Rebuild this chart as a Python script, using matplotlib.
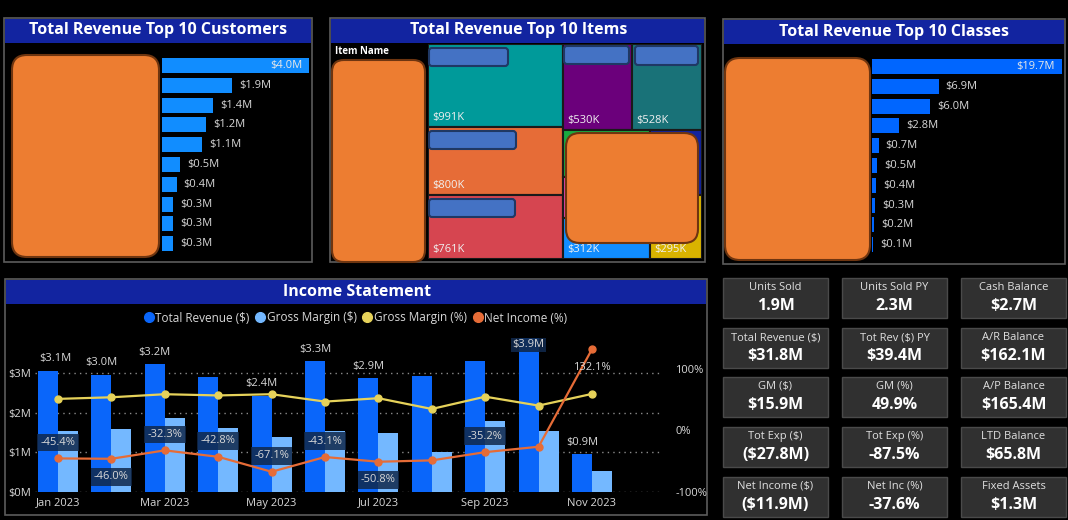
import matplotlib
matplotlib.use('Agg')
import matplotlib.pyplot as plt
from matplotlib.patches import Rectangle, FancyBboxPatch
from matplotlib.lines import Line2D

W, H = 1068, 520
plt.rcParams['font.family'] = ['Open Sans', 'DejaVu Sans']

# ---------------- data ----------------
customer_revenue = [4.0, 1.9, 1.4, 1.2, 1.1, 0.5, 0.4, 0.3, 0.3, 0.3]      # $M
class_revenue = [19.7, 6.9, 6.0, 2.8, 0.7, 0.5, 0.4, 0.3, 0.2, 0.1]         # $M
item_revenue = [991, 800, 761, 530, 528, 358, 318, 312, 300, 295]           # $K
item_colors = ['#009A9A', '#E66C37', '#D64550', '#6B007B', '#197278',
               '#1AAB40', '#E044A7', '#118DFF', '#12239E', '#D9B300']

months = ['Jan 2023', 'Feb 2023', 'Mar 2023', 'Apr 2023', 'May 2023', 'Jun 2023',
          'Jul 2023', 'Aug 2023', 'Sep 2023', 'Oct 2023', 'Nov 2023']
total_revenue = [3.07, 2.97, 3.24, 2.92, 2.44, 3.32, 2.88, 2.94, 3.32, 3.90, 0.95]   # $M
gross_margin = [1.55, 1.59, 1.87, 1.61, 1.40, 1.55, 1.49, 1.00, 1.80, 1.55, 0.54]    # $M
gross_margin_pct = [51.4, 54.0, 59.0, 57.0, 59.0, 47.0, 52.5, 35.0, 55.0, 40.5, 59.5]
net_income_pct = [-45.4, -46.0, -32.3, -42.8, -67.1, -43.1, -50.8, -48.6, -35.2, -26.4, 132.1]
revenue_label_shown = [True, True, True, False, True, True, True, False, False, True, True]
ni_label_shown = [True, True, True, True, True, True, True, False, True, False, True]

kpi_labels = [["Units Sold", "Units Sold PY", "Cash Balance"],
              ["Total Revenue ($)", "Tot Rev ($) PY", "A/R Balance"],
              ["GM ($)", "GM (%)", "A/P Balance"],
              ["Tot Exp ($)", "Tot Exp (%)", "LTD Balance"],
              ["Net Income ($)", "Net Inc (%)", "Fixed Assets"]]
kpi_values = [["1.9M", "2.3M", "$2.7M"],
              ["$31.8M", "$39.4M", "$162.1M"],
              ["$15.9M", "49.9%", "$165.4M"],
              ["($27.8M)", "-87.5%", "$65.8M"],
              ["($11.9M)", "-37.6%", "$1.3M"]]

# ---------------- styling ----------------
BG = 'black'
TITLE_BAR = '#1224A0'
BORDER = '#5C5C5C'
TXT = '#D8D8D8'
ORANGE = '#ED7D31'
ORANGE_EDGE = '#6E3510'
TR_COLOR = '#0A66FA'
GM_COLOR = '#74B8FF'
GMP_COLOR = '#E6D25A'
NI_COLOR = '#E66C37'
LABEL_BOX = '#10284A'

fig = plt.figure(figsize=(W / 100, H / 100), dpi=100, facecolor=BG)


def px_axes(x0, y0, x1, y1, z=1):
    ax = fig.add_axes([x0 / W, 1 - y1 / H, (x1 - x0) / W, (y1 - y0) / H], zorder=z)
    ax.set_facecolor('none')
    return ax


# background layer (pixel coordinates)
bg = px_axes(0, 0, W, H, z=0)
bg.set_xlim(0, W)
bg.set_ylim(H, 0)
bg.axis('off')


def panel(x0, y0, x1, y1, title, tb_bottom, tx, ty):
    bg.add_patch(Rectangle((x0, y0), x1 - x0, y1 - y0, fc=BG, ec=BORDER, lw=1.2))
    bg.add_patch(Rectangle((x0 + 1, y0 + 1), x1 - x0 - 2, tb_bottom - y0 - 1, fc=TITLE_BAR, ec='none'))
    bg.text(tx, ty, title, color='white', fontsize=11.5, fontweight='bold', ha='center', va='center')


panel(4, 18, 312, 262, 'Total Revenue Top 10 Customers', 43, 158, 30.5)
panel(330, 18, 705, 262, 'Total Revenue Top 10 Items', 43, 519, 30.5)
panel(723, 19, 1065, 264, 'Total Revenue Top 10 Classes', 44, 894, 31.5)
panel(5, 279, 707, 515, 'Income Statement', 304, 357, 291.5)

bg.text(335, 51, 'Item Name', color='white', fontsize=7, fontweight='bold', ha='left', va='center')

# KPI cards
col_left = [723, 842, 961]
row_top = [278, 328, 377, 427, 477]
for r, top in enumerate(row_top):
    for c, left in enumerate(col_left):
        bg.add_patch(Rectangle((left, top), 105, 40, fc='#303030', ec='#4A4A4A', lw=1))
        bg.text(left + 52.5, top + 9.5, kpi_labels[r][c], color='#E0E0E0', fontsize=8,
                ha='center', va='center')
        bg.text(left + 52.5, top + 28, kpi_values[r][c], color='white', fontsize=11.5,
                fontweight='bold', ha='center', va='center')


# ---------------- horizontal bar charts ----------------
def hbar(ax, values, color, xmax):
    n = len(values)
    ax.barh(range(n), values, height=0.76, color=color)
    ax.set_ylim(n - 0.5, -0.5)
    ax.set_xlim(0, xmax)
    ax.axis('off')
    for i, v in enumerate(values):
        lab = f'${v:.1f}M'
        if i == 0:
            ax.annotate(lab, (v, i), xytext=(-5, 0), textcoords='offset points',
                        ha='right', va='center', color='#E8E8E8', fontsize=8)
        else:
            ax.annotate(lab, (v, i), xytext=(5, 0), textcoords='offset points',
                        ha='left', va='center', color=TXT, fontsize=8)


ax_c = px_axes(162, 55.6, 312, 253.6, z=2)
hbar(ax_c, customer_revenue, '#118DFF', 4.082)

ax_k = px_axes(872, 56.6, 1064, 254.6, z=2)
hbar(ax_k, class_revenue, '#0066FF', 19.92)

# ---------------- treemap ----------------
ax_t = px_axes(428, 44, 702, 259, z=2)
ax_t.set_xlim(0, 1)
ax_t.set_ylim(1, 0)
ax_t.axis('off')

strips = [('col', 3), ('row', 2), ('col', 3), ('col', 2)]
x, y, w, h = 0.0, 0.0, 1.0, 1.0
idx = 0
remaining = float(sum(item_revenue))
for orient, cnt in strips:
    vals = item_revenue[idx:idx + cnt]
    s = float(sum(vals))
    frac = s / remaining
    if orient == 'col':
        sw = w * frac
        yy = y
        for k, v in enumerate(vals):
            hh = h * v / s
            ax_t.add_patch(Rectangle((x, yy), sw, hh, fc=item_colors[idx + k], ec='#1A1A1A', lw=1.5))
            ax_t.annotate(f'${v}K', (x, yy + hh), xytext=(3, 3), textcoords='offset points',
                          ha='left', va='bottom', color='#F0F0F0', fontsize=8)
            yy += hh
        x += sw
        w -= sw
    else:
        sh = h * frac
        xx = x
        for k, v in enumerate(vals):
            ww = w * v / s
            ax_t.add_patch(Rectangle((xx, y), ww, sh, fc=item_colors[idx + k], ec='#1A1A1A', lw=1.5))
            ax_t.annotate(f'${v}K', (xx, y + sh), xytext=(3, 3), textcoords='offset points',
                          ha='left', va='bottom', color='#F0F0F0', fontsize=8)
            xx += ww
        y += sh
        h -= sh
    remaining -= s
    idx += cnt

# ---------------- income statement ----------------
ax = px_axes(35, 330, 663, 492, z=2)
xs = list(range(len(months)))
bw = 0.375
ax.set_xlim(-0.431, 11.33)
ax.set_ylim(0, 4.10)
ax.set_axisbelow(True)
ax.yaxis.grid(True, color='#8A8A8A', linestyle=(0, (1, 3)), linewidth=1)
ax.bar([i - bw / 2 for i in xs], total_revenue, width=bw, color=TR_COLOR, zorder=2)
ax.bar([i + bw / 2 for i in xs], gross_margin, width=bw, color=GM_COLOR, zorder=2)
for sp in ax.spines.values():
    sp.set_visible(False)
ax.set_yticks([0, 1, 2, 3])
ax.set_yticklabels(['$0M', '$1M', '$2M', '$3M'])
ax.set_xticks(xs[::2])
ax.set_xticklabels(months[::2])
ax.tick_params(axis='both', length=0, colors=TXT, labelsize=8)
ax.tick_params(axis='y', pad=3)
ax.tick_params(axis='x', pad=4)

for i, v in enumerate(total_revenue):
    if not revenue_label_shown[i]:
        continue
    if v > 3.7:
        ax.annotate(f'${v:.1f}M', (i - bw / 2, v), xytext=(0, -5), textcoords='offset points',
                    ha='center', va='center', color=TXT, fontsize=8, zorder=5,
                    bbox=dict(boxstyle='square,pad=0.15', fc=LABEL_BOX, ec='none', alpha=0.9))
    else:
        dx = 5 if i == 0 else 0
        ax.annotate(f'${v:.1f}M', (i - bw / 2, v), xytext=(dx, 8.5), textcoords='offset points',
                    ha='center', va='center', color=TXT, fontsize=8, zorder=5)

ax2 = ax.twinx()
ax2.set_ylim(-100, 163.4)
for sp in ax2.spines.values():
    sp.set_visible(False)
ax2.set_yticks([-100, 0, 100])
ax2.set_yticklabels(['-100%', '0%', '100%'])
ax2.tick_params(axis='y', length=0, colors=TXT, labelsize=8, pad=9)
ax2.plot(xs, gross_margin_pct, color=GMP_COLOR, lw=1.6, marker='o', ms=5, zorder=3)
ax2.plot(xs, net_income_pct, color=NI_COLOR, lw=1.6, marker='o', ms=5, zorder=3)
below = [1, 6, 10]
for i, v in enumerate(net_income_pct):
    if not ni_label_shown[i]:
        continue
    dy = -13 if i in below else 11.5
    box = None if v > 100 else dict(boxstyle='square,pad=0.3', fc=LABEL_BOX, ec='none', alpha=0.85)
    ax2.annotate(f'{v:.1f}%', (i, v), xytext=(0, dy), textcoords='offset points',
                 ha='center', va='center', color=TXT, fontsize=8, zorder=6, bbox=box)

handles = [Line2D([], [], ls='none', marker='o', ms=7, color=c)
           for c in (TR_COLOR, GM_COLOR, GMP_COLOR, NI_COLOR)]
fig.legend(handles, ['Total Revenue ($)', 'Gross Margin ($)', 'Gross Margin (%)', 'Net Income (%)'],
           loc='center', bbox_to_anchor=(355 / W, 1 - 318 / H), ncol=4, frameon=False,
           handletextpad=0.05, columnspacing=0.4, handlelength=1.0, fontsize=8.5, labelcolor=TXT)

# ---------------- redaction overlays ----------------
ov = px_axes(0, 0, W, H, z=10)
ov.set_xlim(0, W)
ov.set_ylim(H, 0)
ov.axis('off')
for (x0, y0, x1, y1, r) in [(12, 55, 159, 257, 15), (332, 60, 425, 262, 12),
                            (566, 133, 698, 243, 14), (725, 58, 870, 260, 15)]:
    ov.add_patch(FancyBboxPatch((x0, y0), x1 - x0, y1 - y0, boxstyle=f'round,pad=0,rounding_size={r}',
                                fc=ORANGE, ec=ORANGE_EDGE, lw=1.5))
for (x0, y0, x1, y1) in [(429, 48, 508, 66), (429, 131, 516, 149), (429, 199, 515, 217),
                         (564, 46, 629, 64), (635, 46, 698, 65)]:
    ov.add_patch(FancyBboxPatch((x0, y0), x1 - x0, y1 - y0, boxstyle='round,pad=0,rounding_size=3',
                                fc='#4472C4', ec='#1F3864', lw=1.5))

fig.savefig('out.png', dpi=100, facecolor=BG)
